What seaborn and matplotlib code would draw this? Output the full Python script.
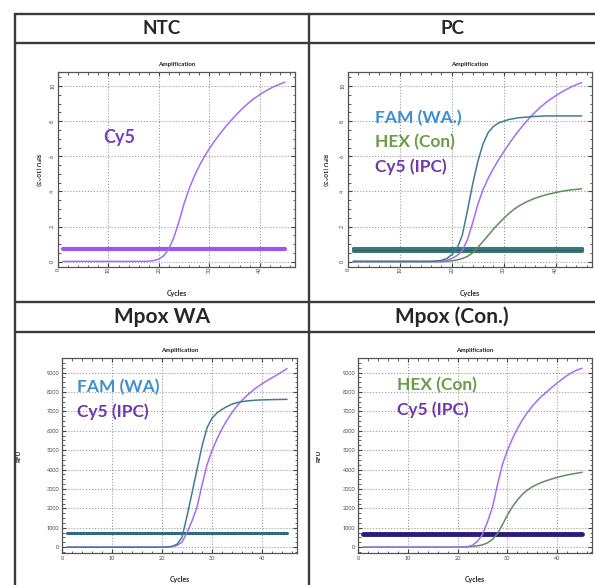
import matplotlib
matplotlib.use("Agg")
import matplotlib.pyplot as plt
from matplotlib.lines import Line2D
from matplotlib.ticker import MultipleLocator
import seaborn as sns

sns.set_style("white")
plt.rcParams['font.family'] = ['Lato', 'DejaVu Sans']

# ---------------- data ----------------
cycles = list(range(1, 46))

# NTC (RFU x 10^3)
ntc_cy5 = [0.02]*17 + [0.03, 0.07, 0.15, 0.35, 0.75, 1.4, 2.3, 3.3, 4.15, 4.85, 5.45, 5.97, 6.43,
                       6.85, 7.24, 7.6, 7.94, 8.26, 8.56, 8.84, 9.09, 9.31, 9.51, 9.69, 9.85, 9.99, 10.11, 10.22]

# PC (RFU x 10^3)
pc_fam = [0.02]*16 + [0.04, 0.08, 0.18, 0.4, 0.75, 1.5, 2.9, 4.4, 5.7, 6.7, 7.35, 7.7, 7.9, 8.0,
                      8.1, 8.15, 8.2, 8.22, 8.25, 8.27, 8.28, 8.3, 8.3, 8.3, 8.3, 8.3, 8.3, 8.3, 8.3]
pc_hex = [0.0]*18 + [0.02, 0.05, 0.1, 0.18, 0.3, 0.5, 0.82, 1.15, 1.5, 1.85, 2.17, 2.47, 2.75, 2.99,
                     3.19, 3.35, 3.49, 3.61, 3.71, 3.8, 3.87, 3.94, 4.0, 4.05, 4.09, 4.12, 4.15]
pc_cy5 = [0.02]*17 + [0.04, 0.08, 0.18, 0.35, 0.62, 1.25, 2.2, 3.25, 4.1, 4.75, 5.3, 5.8, 6.26,
                      6.7, 7.12, 7.5, 7.86, 8.2, 8.5, 8.78, 9.03, 9.25, 9.45, 9.63, 9.8, 9.95, 10.08, 10.2]

# Mpox WA (RFU)
wa_fam = [0]*20 + [10, 40, 150, 500, 1600, 2800, 4000, 5200, 6150, 6650, 6920, 7100, 7250, 7370,
                   7450, 7500, 7535, 7560, 7580, 7590, 7600, 7605, 7610, 7615, 7620]
wa_cy5 = [0]*20 + [10, 30, 90, 260, 750, 1350, 2050, 3200, 4250, 4980, 5580, 6100, 6550, 6940,
                   7280, 7570, 7820, 8040, 8240, 8420, 8580, 8730, 8880, 9040, 9200]

# Mpox (Con.) (RFU)
con_hex = [0]*20 + [10, 20, 40, 70, 120, 220, 400, 700, 1150, 1650, 2080, 2430, 2720, 2940,
                    3110, 3240, 3350, 3440, 3520, 3595, 3660, 3720, 3770, 3815, 3860]
con_cy5 = [0]*20 + [10, 30, 100, 300, 650, 1300, 2050, 3200, 4250, 4980, 5580, 6100, 6550, 6930,
                    7260, 7550, 7800, 8030, 8250, 8460, 8660, 8850, 9010, 9130, 9220]

# thresholds
ntc_thr = [0.75]
pc_thr = [0.62, 0.72, 0.8]
wa_thr = [750]
con_thr = [700]

headers = ["NTC", "PC", "Mpox WA", "Mpox (Con.)"]

# ---------------- styles ----------------
C_FAM, C_HEX, C_CY5 = "#3f7d92", "#5f8d5f", "#a46ef0"
T_FAM, T_HEX, T_CY5 = "#3e8ed0", "#6a9d45", "#7038a8"

W, H = 595, 585
fig = plt.figure(figsize=(W / 100, H / 100), dpi=100)
fig.patch.set_facecolor("white")


def box(l, r, t, b):
    return [l / W, 1 - b / H, (r - l) / W, (b - t) / H]


def hline(y, x0=15, x1=595):
    fig.add_artist(Line2D([x0 / W, x1 / W], [1 - y / H] * 2, color="#3a3a3a", lw=1.7))


def vline(x, y0=14, y1=585):
    fig.add_artist(Line2D([x / W] * 2, [1 - y0 / H, 1 - y1 / H], color="#3a3a3a", lw=1.7))


for y in (14, 43, 302, 332):
    hline(y)
for x in (15, 309):
    vline(x)

fig.text(162 / W, 1 - 29 / H, headers[0], ha="center", va="center", fontsize=13.5, fontweight="bold")
fig.text(452 / W, 1 - 29 / H, headers[1], ha="center", va="center", fontsize=13.5, fontweight="bold")
fig.text(162 / W, 1 - 317 / H, headers[2], ha="center", va="center", fontsize=15, fontweight="bold")
fig.text(452 / W, 1 - 317 / H, headers[3], ha="center", va="center", fontsize=15, fontweight="bold")


def setup(ax, ylim, ymaj, ymin, ylabel, rot, ylab_x):
    ax.set_xlim(0, 47)
    ax.set_ylim(*ylim)
    ax.xaxis.set_major_locator(MultipleLocator(10))
    ax.xaxis.set_minor_locator(MultipleLocator(2))
    ax.yaxis.set_major_locator(MultipleLocator(ymaj))
    ax.yaxis.set_minor_locator(MultipleLocator(ymin))
    ax.grid(True, which="major", color="#9a9a9a", ls=":", lw=0.8)
    ax.tick_params(which="both", direction="in", top=True, right=True, bottom=True, left=True,
                   labelsize=4, colors="#444", pad=2)
    ax.tick_params(which="major", length=3, width=0.8)
    ax.tick_params(which="minor", length=1.8, width=0.6)
    for lab in ax.get_xticklabels() + ax.get_yticklabels():
        lab.set_rotation(rot)
        if rot:
            lab.set_va("center")
    for s in ax.spines.values():
        s.set_color("#555")
        s.set_linewidth(0.9)
    ax.set_title("Amplification", fontsize=4.5, fontweight="bold", pad=4, color="#222")
    ax.set_xlabel("Cycles", fontsize=5, fontweight="bold", color="#222")
    ax.xaxis.set_label_coords(0.5, -0.118)
    ax.set_ylabel(ylabel, fontsize=4.5, fontweight="bold", color="#222", rotation=270 if rot else 90)
    ax.yaxis.set_label_coords(ylab_x, 0.5)


def thr(ax, val, color, lw):
    sns.lineplot(x=[cycles[0], cycles[-1]], y=[val, val], ax=ax, color=color, lw=lw)


# NTC
ax1 = fig.add_axes(box(58, 295, 72, 267))
thr(ax1, ntc_thr[0], "#9e55ee", 3)
sns.lineplot(x=cycles, y=ntc_cy5, ax=ax1, color=C_CY5, lw=1.1)
ax1.text(8.9, 7.1, "Cy5", color="#7a3cc0", fontsize=13, fontweight="bold", va="center")
setup(ax1, (-0.3, 10.8), 2, 0.5, "RFU (10^3)", 90, -0.097)

# PC
ax2 = fig.add_axes(box(348, 592, 72, 267))
for v, c in zip(pc_thr, ["#3d7a55", "#2c5f6a", "#2f7a8a"]):
    thr(ax2, v, c, 2.2)
sns.lineplot(x=cycles, y=pc_hex, ax=ax2, color=C_HEX, lw=1.1)
sns.lineplot(x=cycles, y=pc_cy5, ax=ax2, color=C_CY5, lw=1.1)
sns.lineplot(x=cycles, y=pc_fam, ax=ax2, color=C_FAM, lw=1.1)
ax2.text(5.2, 8.2, "FAM (WA.)", color=T_FAM, fontsize=12.5, fontweight="bold", va="center")
ax2.text(5.2, 6.8, "HEX (Con)", color=T_HEX, fontsize=12.5, fontweight="bold", va="center")
ax2.text(5.2, 5.4, "Cy5 (IPC)", color=T_CY5, fontsize=12.5, fontweight="bold", va="center")
setup(ax2, (-0.3, 10.8), 2, 0.5, "RFU (10^3)", 90, -0.107)

# Mpox WA
ax3 = fig.add_axes(box(62, 297, 358, 553))
thr(ax3, wa_thr[0], "#2f6a80", 2.2)
sns.lineplot(x=cycles, y=wa_cy5, ax=ax3, color=C_CY5, lw=1.1)
sns.lineplot(x=cycles, y=wa_fam, ax=ax3, color=C_FAM, lw=1.1)
ax3.text(3.0, 8250, "FAM (WA)", color=T_FAM, fontsize=12.5, fontweight="bold", va="center")
ax3.text(3.0, 6960, "Cy5 (IPC)", color=T_CY5, fontsize=12.5, fontweight="bold", va="center")
setup(ax3, (-300, 9750), 1000, 250, "RFU", 0, -0.174)

# Mpox Con
ax4 = fig.add_axes(box(358, 592, 358, 553))
thr(ax4, con_thr[0], "#2d1b7a", 3.5)
sns.lineplot(x=cycles, y=con_hex, ax=ax4, color=C_HEX, lw=1.1)
sns.lineplot(x=cycles, y=con_cy5, ax=ax4, color=C_CY5, lw=1.1)
ax4.text(7.9, 8350, "HEX (Con)", color=T_HEX, fontsize=12.5, fontweight="bold", va="center")
ax4.text(7.9, 7060, "Cy5 (IPC)", color=T_CY5, fontsize=12.5, fontweight="bold", va="center")
setup(ax4, (-300, 9750), 1000, 250, "RFU", 0, -0.154)

fig.savefig("out.png", dpi=100)
